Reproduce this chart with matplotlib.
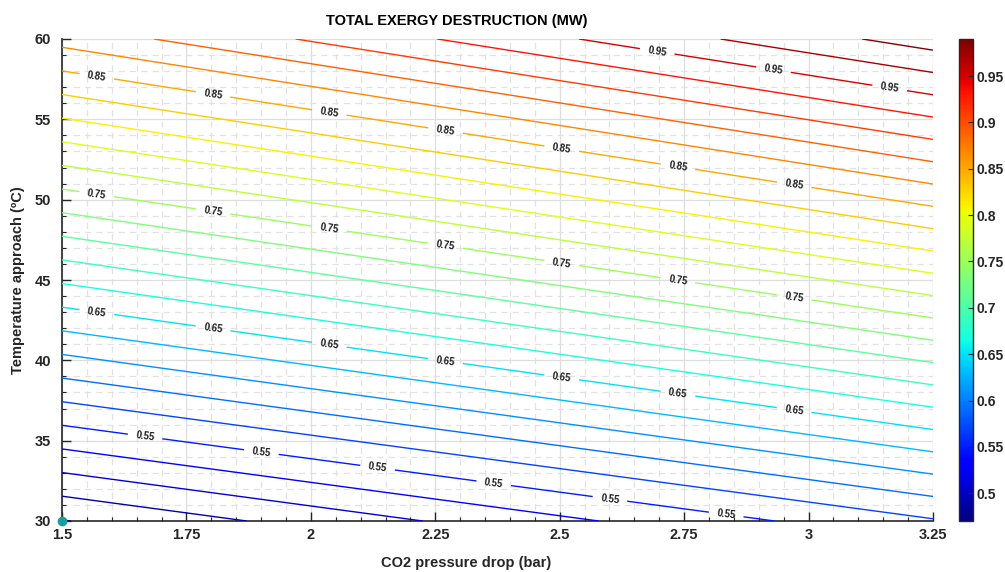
import numpy as np
import matplotlib
matplotlib.use("Agg")
import matplotlib.pyplot as plt
from matplotlib.ticker import MultipleLocator
from matplotlib.colors import Normalize
from matplotlib.cm import ScalarMappable

plt.rcParams['font.family'] = ['Liberation Sans', 'DejaVu Sans']
plt.rcParams['font.weight'] = 'bold'

#%% data (corner values of the response surface)
pressure_drop = np.array([1.5, 3.25])          # bar
temp_approach = np.array([30.0, 60.0])         # degC
exergy = np.array([[0.469, 0.568],             # row: temp_approach, col: pressure_drop
                   [0.877, 1.000]])            # MW

levels = np.round(np.arange(47, 100, 2) / 100, 2)
label_levels = [0.55, 0.65, 0.75, 0.85, 0.95]
clim = (0.47, 0.99)
cbar_ticks = [0.5, 0.55, 0.6, 0.65, 0.7, 0.75, 0.8, 0.85, 0.9, 0.95]

# label layout: first label x and number of labels on each labelled line
label_start = {0.55: 1.667, 0.65: 1.570, 0.75: 1.570, 0.85: 1.570, 0.95: 2.696}
label_count = {0.55: 6, 0.65: 7, 0.75: 7, 0.85: 7, 0.95: 3}
label_step = 0.2335

txt = '#262626'

#%% figure
W, H = 1005, 572
fig = plt.figure(figsize=(W / 100, H / 100), dpi=100)
ax = fig.add_axes([62 / W, 1 - 521 / H, (933 - 62) / W, (521 - 39) / H])

X, Y = np.meshgrid(pressure_drop, temp_approach)
norm = Normalize(*clim)
# labelled and unlabelled lines drawn as two sets (clabel indexing bug with level subsets)
plain_levels = [l for l in levels if not np.any(np.isclose(l, label_levels))]
cs = ax.contour(X, Y, exergy, levels=plain_levels, cmap='jet', norm=norm,
                linewidths=1.0, zorder=3)
cs_lab = ax.contour(X, Y, exergy, levels=label_levels, cmap='jet', norm=norm,
                    linewidths=1.0, zorder=3)

# label positions along the lines
paths = cs_lab.get_paths()
positions = []
for i, lev in enumerate(label_levels):
    v = paths[i].vertices
    order = np.argsort(v[:, 0])
    xs = label_start[lev] + label_step * np.arange(label_count[lev])
    ys = np.interp(xs, v[order, 0], v[order, 1])
    positions += list(zip(xs, ys))

lbls = ax.clabel(cs_lab, inline=True, inline_spacing=8,
                 fontsize=7, fmt='%.2f', colors='#1a1a1a', manual=positions)

ax.plot(pressure_drop[0], temp_approach[0], 'o', color='#1a9e9e', ms=6,
        clip_on=False, zorder=5)

ax.set_xlim(pressure_drop[0], pressure_drop[-1])
ax.set_ylim(temp_approach[0], temp_approach[-1])
ax.xaxis.set_major_locator(MultipleLocator(0.25))
ax.xaxis.set_minor_locator(MultipleLocator(0.05))
ax.yaxis.set_major_locator(MultipleLocator(5))
ax.yaxis.set_minor_locator(MultipleLocator(1))
ax.xaxis.set_major_formatter(plt.FuncFormatter(lambda v, p: '%g' % v))

ax.grid(True, which='major', color='#dedede', lw=0.9, ls='-', zorder=0)
ax.grid(True, which='minor', color='#e2e2e2', lw=0.9, ls=(0, (5, 4)), zorder=0)
ax.set_axisbelow(True)

for s in ['top', 'right']:
    ax.spines[s].set_visible(False)
for s in ['left', 'bottom']:
    ax.spines[s].set_color(txt)
    ax.spines[s].set_linewidth(1.2)

ax.tick_params(which='both', direction='in', color=txt, top=False, right=False)
ax.tick_params(which='major', length=6.5, width=1.0, labelsize=10.5, labelcolor=txt)
ax.tick_params(which='minor', length=3, width=0.8)
ax.tick_params(axis='y', which='major', pad=8)
ax.tick_params(axis='x', which='major', pad=5)

fig.text(457 / W, 1 - 21 / H, 'TOTAL EXERGY DESTRUCTION (MW)', ha='center', va='center',
         fontsize=10.5, fontweight='bold', color='black')
fig.text(466 / W, 1 - 563 / H, 'CO2 pressure drop (bar)', ha='center', va='center',
         fontsize=10.5, fontweight='bold', color=txt)
fig.text(18 / W, 1 - 280 / H, 'Temperature approach (ºC)', ha='center', va='center',
         rotation=90, fontsize=10.5, fontweight='bold', color=txt)

#%% colorbar
cax = fig.add_axes([959 / W, 1 - 521 / H, (972.5 - 959) / W, (521 - 39) / H])
sm = ScalarMappable(norm=norm, cmap='jet')
cb = fig.colorbar(sm, cax=cax, ticks=cbar_ticks)
cb.outline.set_edgecolor(txt)
cb.outline.set_linewidth(1.0)
cax.tick_params(direction='in', length=3.6, color=txt, labelsize=10,
                labelcolor=txt, pad=3)
cax.set_yticklabels(['%g' % t for t in cbar_ticks])

fig.savefig('out.png', dpi=100)
